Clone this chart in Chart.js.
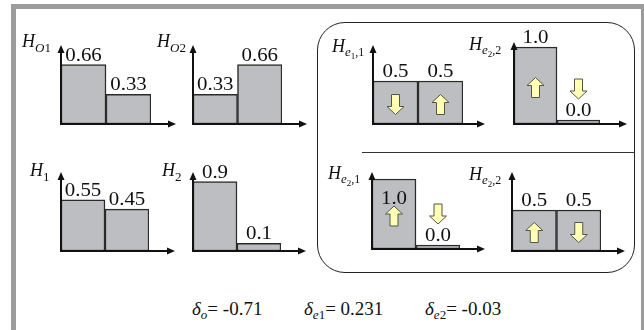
<!DOCTYPE html>
<html>
<head>
<meta charset="utf-8">
<script src="https://cdn.jsdelivr.net/npm/chart.js@4.4.1/dist/chart.umd.min.js"></script>
<style>
html, body { margin: 0; padding: 0; background: #fff; }
#wrap { position: relative; width: 644px; height: 330px; overflow: hidden; }
#frame { position: absolute; left: 11px; top: 4px; width: 633px; height: 360px; box-sizing: border-box;
  border-left: 5px solid #9c9c9c; border-top: 5px solid #9c9c9c; border-right: 3px solid #9c9c9c; }
#box { position: absolute; left: 317px; top: 22px; width: 318px; height: 251px; box-sizing: border-box;
  border: 1.5px solid #222; border-radius: 28px; }
#divider { position: absolute; left: 362px; top: 152px; width: 273px; border-top: 1.5px solid #333; }
canvas { position: absolute; }
.delta { position: absolute; top: 299px; font: 19px "Liberation Serif", "Times New Roman", "DejaVu Serif", serif; line-height: 19px; white-space: nowrap; color: #111; }
.delta sub { font-size: 13px; vertical-align: -4px; line-height: 0; }
</style>
</head>
<body>
<div id="wrap">
  <div id="frame"></div>
  <div id="box"></div>
  <div id="divider"></div>
</div>
<script>
// histogram values
const categories = ['left', 'right'];
const hO1 = [0.66, 0.33];
const hO2 = [0.33, 0.66];
const h1 = [0.55, 0.45];
const h2 = [0.9, 0.1];
const hE11 = [0.5, 0.5];
const hE22top = [1.0, 0.0];
const hE21 = [1.0, 0.0];
const hE22bottom = [0.5, 0.5];

// spin arrows drawn in the electron histograms
const spinE11 = ['down', 'up'];
const spinE22top = ['up', 'down'];
const spinE21 = ['up', 'down'];
const spinE22bottom = ['up', 'down'];

// delta values under the figure
const deltaNames = ['o', 'e1', 'e2'];
const deltaValues = ['-0.71', '0.231', '-0.03'];

const SERIF = '"Liberation Serif", "Times New Roman", "DejaVu Serif", serif';
const PAD_L = 50, PAD_T = 115, PLOT_H = 80;

const panels = [
  { sub: [['O', 'si'], ['1', 's']], data: hO1, axisX: 61, base: 124, xEnd: 176, barW: 45, ppu: 90, top: 45, tdx: -39, tdy: -77 },
  { sub: [['O', 'si'], ['2', 's']], data: hO2, axisX: 193, base: 124, xEnd: 307, barW: 44.5, ppu: 90, top: 45, tdx: -36, tdy: -77 },
  { sub: [['1', 's']], data: h1, axisX: 61, base: 251, xEnd: 175, barW: 44, ppu: 93, top: 172, tdx: -31, tdy: -75 },
  { sub: [['2', 's']], data: h2, axisX: 193, base: 251, xEnd: 306, barW: 44, ppu: 77, top: 172, tdx: -31, tdy: -75 },
  { sub: [['e', 'ei'], ['1', 'ss'], [',1', 'e']], data: hE11, spins: spinE11, axisX: 373, base: 124, xEnd: 485, barW: 45, ppu: 86, top: 45, tdx: -41, tdy: -72 },
  { sub: [['e', 'ei'], ['2', 'ss'], [',2', 'e']], data: hE22top, spins: spinE22top, axisX: 514, base: 124, xEnd: 627, barW: 43, ppu: 77, top: 42, tdx: -45, tdy: -74 },
  { sub: [['e', 'ei'], ['2', 'ss'], [',1', 'e']], data: hE21, spins: spinE21, inside: [true, false], axisX: 372, base: 249, xEnd: 485, barW: 44, ppu: 70, top: 172, tdx: -44, tdy: -70 },
  { sub: [['e', 'ei'], ['2', 'ss'], [',2', 'e']], data: hE22bottom, spins: spinE22bottom, axisX: 512, base: 251, xEnd: 625, barW: 44.5, ppu: 82, top: 172, tdx: -43, tdy: -71 }
];

const fmt = v => Number.isInteger(v) ? v.toFixed(1) : String(v);

function drawSpin(ctx, cx, cy, dir) {
  const hw = 8.5, sw = 4, hh = 8, h = 20;
  const s = dir === 'up' ? -1 : 1;
  const tipY = cy + s * h / 2, backY = cy - s * h / 2, neckY = tipY - s * hh;
  ctx.beginPath();
  ctx.moveTo(cx, tipY);
  ctx.lineTo(cx + hw, neckY);
  ctx.lineTo(cx + sw, neckY);
  ctx.lineTo(cx + sw, backY);
  ctx.lineTo(cx - sw, backY);
  ctx.lineTo(cx - sw, neckY);
  ctx.lineTo(cx - hw, neckY);
  ctx.closePath();
  ctx.fillStyle = '#ffffb6';
  ctx.fill();
  ctx.strokeStyle = '#55554a';
  ctx.lineWidth = 1;
  ctx.stroke();
}

function decoPlugin(p) {
  return {
    id: 'deco',
    afterDatasetsDraw(chart) {
      const ctx = chart.ctx;
      const a = chart.chartArea;
      const ox = p.axisX - PAD_L, oy = p.base - PAD_T;
      const x0 = a.left, y0 = a.bottom;
      const topY = p.top - oy, endX = p.xEnd - ox;
      ctx.save();
      // axes with arrow heads
      ctx.strokeStyle = '#111';
      ctx.fillStyle = '#111';
      ctx.lineWidth = 2;
      ctx.beginPath();
      ctx.moveTo(x0, y0 + 1);
      ctx.lineTo(x0, topY + 6);
      ctx.moveTo(x0 - 1, y0);
      ctx.lineTo(endX - 6, y0);
      ctx.stroke();
      ctx.beginPath();
      ctx.moveTo(x0, topY);
      ctx.lineTo(x0 + 3.5, topY + 8);
      ctx.lineTo(x0 - 3.5, topY + 8);
      ctx.closePath();
      ctx.moveTo(endX, y0);
      ctx.lineTo(endX - 8, y0 - 3.5);
      ctx.lineTo(endX - 8, y0 + 3.5);
      ctx.closePath();
      ctx.fill();

      // value labels and spins
      const bars = chart.getDatasetMeta(0).data;
      bars.forEach((bar, i) => {
        const v = p.data[i];
        const inside = p.inside && p.inside[i];
        const ly = inside ? bar.y + 25 : bar.y - 4;
        ctx.save();
        ctx.translate(bar.x, ly);
        ctx.scale(1.1, 1);
        ctx.font = '19px ' + SERIF;
        ctx.textAlign = 'center';
        ctx.textBaseline = 'alphabetic';
        ctx.fillStyle = '#111';
        ctx.fillText(fmt(v), 0, 0);
        ctx.restore();
        if (p.spins) {
          const cy = v > 0.05 ? (bar.y + bar.base) / 2 + 2 : ly - 13 - 14;
          drawSpin(ctx, bar.x, cy, p.spins[i]);
        }
      });

      // panel title H with subscripts
      let tx = PAD_L + p.tdx, ty = PAD_T + p.tdy;
      ctx.fillStyle = '#111';
      ctx.textAlign = 'left';
      ctx.font = 'italic 18px ' + SERIF;
      ctx.fillText('H', tx, ty);
      tx += ctx.measureText('H').width;
      const styles = {
        si: ['italic 13px ', 5], s: ['13px ', 5],
        ei: ['italic 13px ', 4], ss: ['9px ', 7], e: ['12px ', 4]
      };
      p.sub.forEach(([t, k]) => {
        ctx.font = styles[k][0] + SERIF;
        ctx.fillText(t, tx, ty + styles[k][1]);
        tx += ctx.measureText(t).width;
      });
      ctx.restore();
    }
  };
}

const wrap = document.getElementById('wrap');
panels.forEach(p => {
  const cv = document.createElement('canvas');
  const w = p.xEnd - p.axisX + PAD_L + 10;
  const h = PAD_T + 7;
  cv.width = w;
  cv.height = h;
  cv.style.left = (p.axisX - PAD_L) + 'px';
  cv.style.top = (p.base - PAD_T) + 'px';
  wrap.appendChild(cv);
  new Chart(cv, {
    type: 'bar',
    data: {
      labels: categories,
      datasets: [{
        data: p.data,
        backgroundColor: '#bdbec2',
        borderColor: '#2b2b2b',
        borderWidth: 1.5,
        borderSkipped: false,
        minBarLength: 4,
        categoryPercentage: 1,
        barPercentage: 1
      }]
    },
    options: {
      responsive: false,
      animation: false,
      devicePixelRatio: 1,
      layout: {
        padding: { left: PAD_L, top: PAD_T - PLOT_H, right: w - PAD_L - 2 * p.barW, bottom: 7 }
      },
      plugins: { legend: { display: false }, tooltip: { enabled: false } },
      scales: {
        x: { display: false },
        y: { display: false, min: 0, max: PLOT_H / p.ppu }
      }
    },
    plugins: [decoPlugin(p)]
  });
});

// delta line under the histograms
const deltaLeft = [192, 304, 425];
deltaNames.forEach((n, i) => {
  const d = document.createElement('div');
  d.className = 'delta';
  d.style.left = deltaLeft[i] + 'px';
  d.innerHTML = '<i>δ</i><sub>' + n.replace(/[a-z]/, '<i>$&</i>') + '</sub>= ' + deltaValues[i];
  wrap.appendChild(d);
});
</script>
</body>
</html>
